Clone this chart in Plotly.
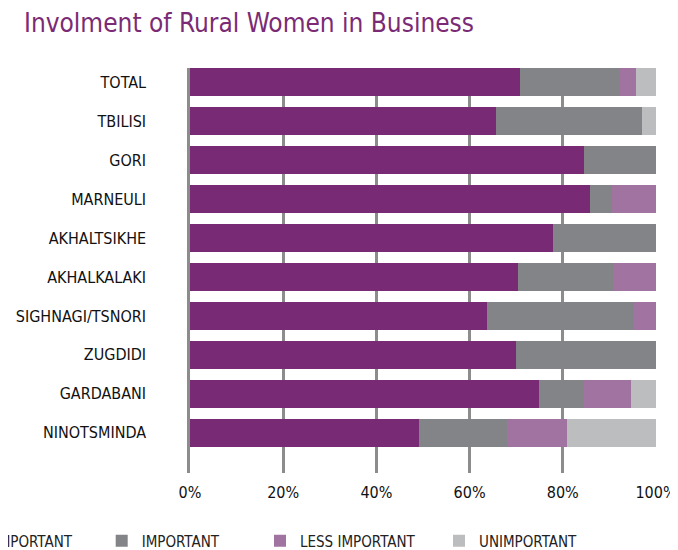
import plotly.graph_objects as go

categories = ["TOTAL", "TBILISI", "GORI", "MARNEULI", "AKHALTSIKHE", "AKHALKALAKI",
              "SIGHNAGI/TSNORI", "ZUGDIDI", "GARDABANI", "NINOTSMINDA"]
very_important = [70.8, 65.7, 84.5, 85.8, 77.8, 70.4, 63.7, 70.0, 74.9, 49.1]
important      = [21.5, 31.3, 15.5, 4.8, 22.2, 20.4, 31.6, 30.0, 9.6, 18.9]
less_important = [3.5, 0.0, 0.0, 9.4, 0.0, 9.2, 4.7, 0.0, 10.1, 12.9]
unimportant    = [4.2, 3.0, 0.0, 0.0, 0.0, 0.0, 0.0, 0.0, 5.4, 19.1]
series_names = ["VERY IMPORTANT", "IMPORTANT", "LESS IMPORTANT", "UNIMPORTANT"]
x_tick_vals = [0, 20, 40, 60, 80, 100]
x_tick_text = ["0%", "20%", "40%", "60%", "80%", "100%"]

colors = ["#782a74", "#838487", "#a073a0", "#bcbdbf"]
FONT = "Liberation Sans Narrow, DejaVu Sans Condensed, Arial Narrow, sans-serif"

# page body adds an 8px offset; layout below is in figure coordinates
OFF = 8
W, H = 678, 550
L = 190 - OFF
T = 68 - OFF
R = W - (656 - OFF)
B = H - (473 - OFF)
pw = W - L - R
ph = H - T - B

def sx(px):  # screen px -> paper x
    return (px - OFF - L) / pw

def sy(py):  # screen px -> paper y
    return (H - B - (py - OFF)) / ph

fig = go.Figure()
values = [very_important, important, less_important, unimportant]
legend_text_starts = [-44, 141.7, 300, 479]
legend_ids = ["legend", "legend2", "legend3", "legend4"]
for i, (name, vals) in enumerate(zip(series_names, values)):
    fig.add_trace(go.Bar(
        y=categories, x=vals, name=name, orientation="h",
        marker=dict(color=colors[i], line=dict(width=0)),
        width=0.72, legend=legend_ids[i], showlegend=True,
        hovertemplate="%{y}: %{x:.1f}%<extra>" + name + "</extra>",
    ))

layout_legends = {}
for i, lid in enumerate(legend_ids):
    layout_legends[lid] = dict(
        x=sx(legend_text_starts[i] - 40), xanchor="left",
        y=sy(541), yanchor="middle",
        orientation="h", bgcolor="rgba(0,0,0,0)", borderwidth=0,
        font=dict(family=FONT, size=15, color="#222222"),
        itemwidth=30, visible=True,
    )

fig.update_layout(
    width=W, height=H,
    showlegend=True,
    margin=dict(l=L, r=R, t=T, b=B, pad=0, autoexpand=False),
    barmode="stack",
    paper_bgcolor="white", plot_bgcolor="white",
    title=dict(text="Involment of Rural Women in Business",
               x=16 / W, xanchor="left", xref="container",
               y=1 - (23 - OFF) / H, yanchor="middle", yref="container",
               font=dict(family=FONT, size=26, color="#7b2a75")),
    **layout_legends,
)

fig.update_xaxes(
    range=[0, 100], tickvals=x_tick_vals, ticktext=x_tick_text,
    showgrid=True, gridcolor="#8c8c8c", gridwidth=2.5,
    zeroline=False, showline=False, ticks="",
    ticklabelstandoff=8, automargin=False,
    tickfont=dict(family=FONT, size=16, color="#111111"),
    fixedrange=True,
)
fig.update_yaxes(
    type="category", categoryorder="array", categoryarray=categories,
    range=[10.03, -0.36],
    showgrid=False, zeroline=False,
    showline=True, linecolor="#8c8c8c", linewidth=2.5,
    ticks="", ticklabelstandoff=38, automargin=False,
    tickfont=dict(family=FONT, size=16, color="#111111"),
    fixedrange=True,
)

fig.write_html("out.html")
